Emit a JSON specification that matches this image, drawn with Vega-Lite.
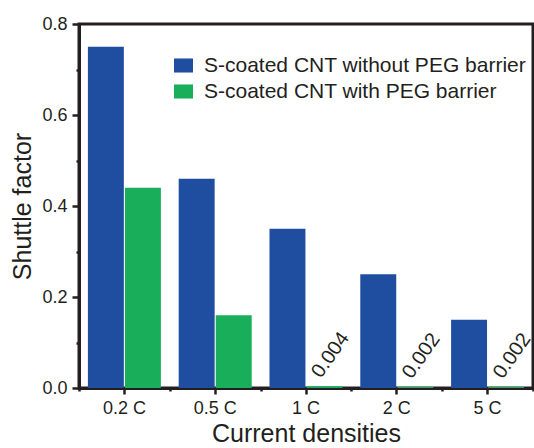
{
  "$schema": "https://vega.github.io/schema/vega-lite/v6.json",
  "width": 454,
  "height": 364,
  "autosize": "none",
  "padding": {"left": 79, "top": 24, "right": 1, "bottom": 60},
  "background": "white",
  "config": {
    "font": "Liberation Sans",
    "view": {"stroke": "#231f20", "strokeWidth": 3},
    "axis": {
      "domainColor": "#231f20", "domainWidth": 3,
      "tickColor": "#231f20", "tickWidth": 2.5,
      "grid": false,
      "labelColor": "#231f20", "titleColor": "#231f20",
      "labelFont": "Liberation Sans", "titleFont": "Liberation Sans",
      "titleFontWeight": "normal",
      "labelFontSize": 18, "titleFontSize": 25
    }
  },
  "data": {
    "values": [
      {"density": "0.2 C", "series": "S-coated CNT without PEG barrier", "value": 0.75},
      {"density": "0.2 C", "series": "S-coated CNT with PEG barrier", "value": 0.44},
      {"density": "0.5 C", "series": "S-coated CNT without PEG barrier", "value": 0.46},
      {"density": "0.5 C", "series": "S-coated CNT with PEG barrier", "value": 0.16},
      {"density": "1 C", "series": "S-coated CNT without PEG barrier", "value": 0.35},
      {"density": "1 C", "series": "S-coated CNT with PEG barrier", "value": 0.004},
      {"density": "2 C", "series": "S-coated CNT without PEG barrier", "value": 0.25},
      {"density": "2 C", "series": "S-coated CNT with PEG barrier", "value": 0.002},
      {"density": "5 C", "series": "S-coated CNT without PEG barrier", "value": 0.15},
      {"density": "5 C", "series": "S-coated CNT with PEG barrier", "value": 0.002}
    ]
  },
  "layer": [
    {
      "mark": {"type": "bar"},
      "encoding": {
        "x": {
          "field": "density", "type": "nominal",
          "sort": ["0.2 C", "0.5 C", "1 C", "2 C", "5 C"],
          "scale": {"paddingInner": 0, "paddingOuter": 0},
          "axis": {"title": "Current densities", "orient": "bottom", "labelAngle": 0, "tickSize": 6, "labelPadding": 5, "titlePadding": 4}
        },
        "xOffset": {
          "field": "series", "type": "nominal",
          "sort": ["S-coated CNT without PEG barrier", "S-coated CNT with PEG barrier"],
          "scale": {"paddingOuter": 0.24, "paddingInner": 0.03}
        },
        "y": {
          "field": "value", "type": "quantitative",
          "scale": {"domain": [0, 0.8]},
          "axis": {"title": "Shuttle factor", "orient": "left", "values": [0, 0.2, 0.4, 0.6, 0.8], "format": ".1f", "tickSize": 7, "labelPadding": 5, "titlePadding": 6}
        },
        "color": {
          "field": "series", "type": "nominal",
          "scale": {"domain": ["S-coated CNT without PEG barrier", "S-coated CNT with PEG barrier"], "range": ["#1f4ea0", "#19af5a"]},
          "legend": {
            "title": null, "orient": "none", "legendX": 94, "legendY": 31,
            "symbolType": "M-1,-0.74H1V0.74H-1Z", "symbolSize": 361, "symbolStrokeWidth": 0,
            "labelFontSize": 21, "labelFont": "Liberation Sans", "labelColor": "#231f20",
            "labelOffset": 10, "rowPadding": 4, "padding": 0, "labelLimit": 400
          }
        }
      }
    },
    {
      "transform": [{"filter": "datum.value < 0.01"}],
      "mark": {"type": "text", "angle": -55, "fontSize": 20, "align": "center", "baseline": "middle", "dx": 29, "dy": -13, "color": "#231f20"},
      "encoding": {
        "x": {
          "field": "density", "type": "nominal",
          "sort": ["0.2 C", "0.5 C", "1 C", "2 C", "5 C"],
          "axis": {"title": null, "orient": "bottom", "labels": false, "domain": false, "tickBand": "extent", "tickSize": 3}
        },
        "xOffset": {
          "field": "series", "type": "nominal",
          "sort": ["S-coated CNT without PEG barrier", "S-coated CNT with PEG barrier"]
        },
        "y": {
          "field": "value", "type": "quantitative",
          "axis": {"title": null, "orient": "left", "labels": false, "domain": false, "values": [0.1, 0.3, 0.5, 0.7], "tickSize": 3}
        },
        "text": {"field": "value", "type": "quantitative", "format": ".3f"}
      }
    }
  ],
  "resolve": {"axis": {"x": "independent", "y": "independent"}}
}
